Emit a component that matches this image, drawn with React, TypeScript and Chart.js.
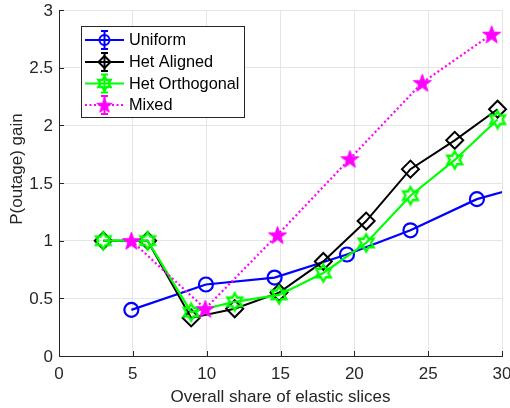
import React, { useEffect, useRef } from 'react';
import { Chart, registerables } from 'chart.js';

Chart.register(...registerables);

// ---- Data ----
const uniformX = [4.9, 9.95, 14.6, 19.5, 23.8, 28.3, 33];
const uniformY = [0.40, 0.62, 0.68, 0.88, 1.09, 1.36, 1.53];
const alignedX = [3, 6, 8.95, 11.9, 14.9, 17.9, 20.8, 23.8, 26.8, 29.7];
const alignedY = [1.0, 1.0, 0.33, 0.41, 0.55, 0.82, 1.17, 1.62, 1.87, 2.14];
const orthoX = [3, 6, 8.95, 11.9, 14.9, 17.9, 20.8, 23.8, 26.8, 29.7];
const orthoY = [1.0, 1.0, 0.38, 0.47, 0.53, 0.72, 0.98, 1.39, 1.70, 2.05];
const mixedX = [4.9, 9.9, 14.8, 19.7, 24.6, 29.3];
const mixedY = [1.0, 0.41, 1.05, 1.71, 2.37, 2.79];

const seriesNames = ['Uniform', 'Het Aligned', 'Het Orthogonal', 'Mixed'];
const xTickValues = [0, 5, 10, 15, 20, 25, 30];
const yTickValues = [0, 0.5, 1, 1.5, 2, 2.5, 3];

const FONT = '"Liberation Sans", Arial, Helvetica, sans-serif';
const TXT = '#262626';

function toPts(xs: number[], ys: number[]) {
  return xs.map((x, i) => ({ x, y: ys[i] }));
}

function starPath(ctx: CanvasRenderingContext2D, cx: number, cy: number, n: number, R: number, r: number) {
  ctx.beginPath();
  for (let i = 0; i < 2 * n; i++) {
    const a = -Math.PI / 2 + (i * Math.PI) / n;
    const rad = i % 2 === 0 ? R : r;
    const px = cx + rad * Math.cos(a);
    const py = cy + rad * Math.sin(a);
    if (i === 0) ctx.moveTo(px, py);
    else ctx.lineTo(px, py);
  }
  ctx.closePath();
}

function makePentagram(R: number) {
  const s = Math.ceil(R * 2 + 4);
  const c = document.createElement('canvas');
  c.width = s; c.height = s;
  const ctx = c.getContext('2d')!;
  starPath(ctx, s / 2, s / 2 + R * 0.1, 5, R, R * 0.4);
  ctx.fillStyle = '#ff00ff';
  ctx.fill();
  ctx.strokeStyle = '#ff00ff';
  ctx.lineWidth = 1;
  ctx.stroke();
  return c;
}

function makeHexagram(R: number) {
  const s = Math.ceil(R * 2 + 5);
  const c = document.createElement('canvas');
  c.width = s; c.height = s;
  const ctx = c.getContext('2d')!;
  starPath(ctx, s / 2, s / 2, 6, R, R / Math.sqrt(3));
  ctx.strokeStyle = '#00ff00';
  ctx.lineWidth = 2.4;
  ctx.lineJoin = 'miter';
  ctx.stroke();
  return c;
}

export default function App() {
  const ref = useRef<HTMLCanvasElement | null>(null);

  useEffect(() => {
    const canvas = ref.current;
    if (!canvas) return;
    const pent = makePentagram(9.5);
    const hexa = makeHexagram(8.5);
    const pentSmall = makePentagram(8);
    const hexaSmall = makeHexagram(7);

    const decor = {
      id: 'decor',
      afterDraw(chart: any) {
        const ctx = chart.ctx as CanvasRenderingContext2D;
        const { left, right, bottom } = chart.chartArea;
        const xs = chart.scales.x;
        const ys = chart.scales.y;
        ctx.save();
        // inward ticks
        ctx.strokeStyle = TXT;
        ctx.lineWidth = 1;
        ctx.beginPath();
        yTickValues.forEach((v) => {
          const py = Math.round(ys.getPixelForValue(v)) + 0.5;
          ctx.moveTo(left, py);
          ctx.lineTo(left + 5, py);
        });
        xTickValues.forEach((v) => {
          const px = Math.round(xs.getPixelForValue(v)) + 0.5;
          ctx.moveTo(px, bottom);
          ctx.lineTo(px, bottom - 5);
        });
        ctx.stroke();

        // tick labels
        ctx.fillStyle = TXT;
        ctx.font = `17px ${FONT}`;
        ctx.textBaseline = 'middle';
        ctx.textAlign = 'right';
        yTickValues.forEach((v) => {
          ctx.fillText(String(v), left - 6, ys.getPixelForValue(v) + 1);
        });
        ctx.textAlign = 'center';
        xTickValues.forEach((v) => {
          ctx.fillText(String(v), xs.getPixelForValue(v), bottom + 18);
        });

        // axis titles
        ctx.font = `17px ${FONT}`;
        ctx.textAlign = 'center';
        ctx.textBaseline = 'middle';
        ctx.fillText('Overall share of elastic slices', (left + right) / 2, 397);
        ctx.save();
        ctx.translate(17, 169);
        ctx.rotate(-Math.PI / 2);
        ctx.fillText('P(outage) gain', 0, 0);
        ctx.restore();

        // legend
        const bx = 81, by = 26, bw = 163, bh = 91;
        ctx.fillStyle = '#ffffff';
        ctx.fillRect(bx, by, bw, bh);
        ctx.strokeStyle = TXT;
        ctx.lineWidth = 1;
        ctx.strokeRect(bx + 0.5, by + 0.5, bw, bh);
        const colors = ['#0000ff', '#000000', '#00ff00', '#ff00ff'];
        const rowY = [40, 62, 83.5, 105];
        ctx.font = `16.3px ${FONT}`;
        ctx.textAlign = 'left';
        ctx.textBaseline = 'middle';
        seriesNames.forEach((name, i) => {
          const y = rowY[i];
          const col = colors[i];
          ctx.strokeStyle = col;
          ctx.lineWidth = 2;
          ctx.setLineDash(i === 3 ? [2, 2.5] : []);
          ctx.beginPath();
          ctx.moveTo(85, y);
          ctx.lineTo(124, y);
          ctx.stroke();
          ctx.setLineDash([]);
          ctx.beginPath();
          ctx.moveTo(104.5, y - 9);
          ctx.lineTo(104.5, y + 9);
          ctx.moveTo(101, y - 9);
          ctx.lineTo(108, y - 9);
          ctx.moveTo(101, y + 9);
          ctx.lineTo(108, y + 9);
          ctx.stroke();
          if (i === 0) {
            ctx.beginPath();
            ctx.arc(104.5, y, 5, 0, Math.PI * 2);
            ctx.stroke();
          } else if (i === 1) {
            ctx.beginPath();
            ctx.moveTo(104.5, y - 6);
            ctx.lineTo(110.5, y);
            ctx.lineTo(104.5, y + 6);
            ctx.lineTo(98.5, y);
            ctx.closePath();
            ctx.stroke();
          } else if (i === 2) {
            ctx.drawImage(hexaSmall, 104.5 - hexaSmall.width / 2, y - hexaSmall.height / 2);
          } else {
            ctx.drawImage(pentSmall, 104.5 - pentSmall.width / 2, y - pentSmall.height / 2);
          }
          ctx.fillStyle = '#000000';
          ctx.fillText(name, 129, y + 1);
        });
        ctx.restore();
      },
    };

    const chart = new Chart(canvas, {
      type: 'line',
      data: {
        datasets: [
          {
            label: seriesNames[0],
            data: toPts(uniformX, uniformY),
            borderColor: '#0000ff',
            backgroundColor: 'rgba(0,0,0,0)',
            borderWidth: 2.2,
            pointStyle: 'circle',
            pointRadius: 7,
            pointBorderWidth: 2.2,
            pointBorderColor: '#0000ff',
            pointBackgroundColor: 'rgba(0,0,0,0)',
            order: 4,
            clip: 0 as any,
          },
          {
            label: seriesNames[1],
            data: toPts(alignedX, alignedY),
            borderColor: '#000000',
            backgroundColor: 'rgba(0,0,0,0)',
            borderWidth: 2,
            pointStyle: 'rectRot',
            pointRadius: 8.5,
            pointBorderWidth: 2,
            pointBorderColor: '#000000',
            pointBackgroundColor: 'rgba(0,0,0,0)',
            order: 3,
            clip: false as any,
          },
          {
            label: seriesNames[2],
            data: toPts(orthoX, orthoY),
            borderColor: '#00ff00',
            backgroundColor: 'rgba(0,0,0,0)',
            borderWidth: 2.2,
            pointStyle: hexa as any,
            pointRadius: 8,
            order: 2,
            clip: false as any,
          },
          {
            label: seriesNames[3],
            data: toPts(mixedX, mixedY),
            borderColor: '#ff00ff',
            backgroundColor: 'rgba(0,0,0,0)',
            borderWidth: 2.2,
            borderDash: [2, 2.6],
            pointStyle: pent as any,
            pointRadius: 9,
            order: 1,
            clip: false as any,
          },
        ],
      },
      options: {
        responsive: false,
        animation: false,
        devicePixelRatio: 1,
        layout: { autoPadding: false, padding: { top: 10, right: 8, left: 0, bottom: 0 } },
        plugins: {
          legend: { display: false },
          tooltip: { enabled: false },
          title: { display: false },
        },
        elements: { line: { tension: 0 } },
        scales: {
          x: {
            type: 'linear',
            min: 0,
            max: 30,
            afterBuildTicks: (s: any) => {
              s.ticks = xTickValues.map((v) => ({ value: v }));
            },
            afterFit: (s: any) => {
              s.height = 52;
            },
            ticks: { display: false },
            grid: { color: '#e5e5e5', lineWidth: 1, drawTicks: false },
            border: { display: true, color: TXT, width: 1 },
          },
          y: {
            type: 'linear',
            min: 0,
            max: 3,
            afterBuildTicks: (s: any) => {
              s.ticks = yTickValues.map((v) => ({ value: v }));
            },
            afterFit: (s: any) => {
              s.width = 59;
            },
            ticks: { display: false },
            grid: { color: '#e5e5e5', lineWidth: 1, drawTicks: false },
            border: { display: true, color: TXT, width: 1 },
          },
        },
      },
      plugins: [decor],
    });

    return () => {
      chart.destroy();
    };
  }, []);

  return (
    <div style={{ position: 'fixed', left: 0, top: 0, width: 510, height: 408, background: '#ffffff' }}>
      <canvas ref={ref} width={510} height={408} style={{ display: 'block', width: 510, height: 408 }} />
    </div>
  );
}
